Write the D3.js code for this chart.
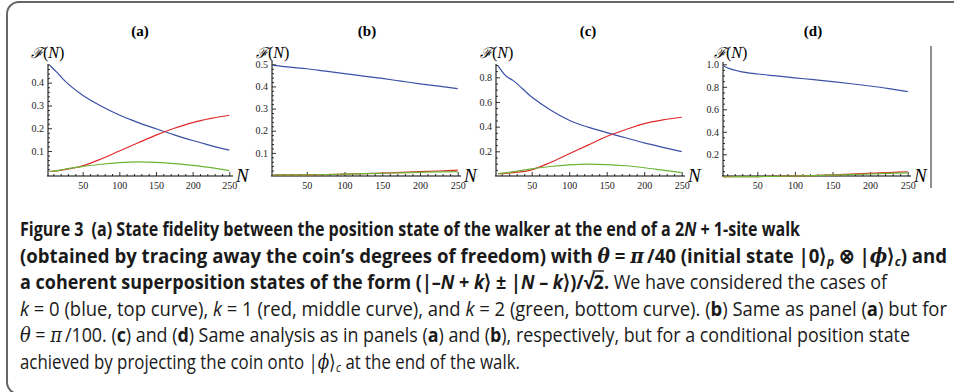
<!DOCTYPE html>
<html>
<head>
<meta charset='utf-8'>
<title>Figure 3</title>
<script src='https://cdn.jsdelivr.net/npm/d3@7/dist/d3.min.js'></script>
<style>
  body { margin: 0; background: #fff; }
  svg { display: block; }
</style>
</head>
<body>
<svg width='954' height='392'></svg>
<script>
const nValues = [5, 15, 25, 50, 75, 100, 125, 150, 175, 200, 225, 250]

// panel (a)
const aBlue = [0.477, 0.445, 0.41, 0.345, 0.298, 0.258, 0.226, 0.198, 0.171, 0.146, 0.124, 0.104]
const aRed = [0.01, 0.013, 0.018, 0.035, 0.065, 0.1, 0.135, 0.17, 0.2, 0.225, 0.243, 0.257]
const aGreen = [0.01, 0.014, 0.02, 0.032, 0.042, 0.049, 0.052, 0.05, 0.045, 0.037, 0.027, 0.014]
// panel (b)
const bBlue = [0.495, 0.492, 0.488, 0.48, 0.469, 0.458, 0.447, 0.436, 0.424, 0.412, 0.401, 0.39]
const bRed = [0, 0.0002, 0.0005, 0.001, 0.002, 0.004, 0.006, 0.009, 0.012, 0.015, 0.018, 0.022]
const bGreen = [0, 0.0002, 0.0004, 0.001, 0.002, 0.004, 0.006, 0.008, 0.01, 0.012, 0.014, 0.015]
// panel (c)
const cBlue = [0.895, 0.815, 0.775, 0.64, 0.535, 0.452, 0.396, 0.352, 0.31, 0.268, 0.232, 0.198]
const cRed = [0.02, 0.022, 0.027, 0.05, 0.11, 0.18, 0.25, 0.32, 0.375, 0.425, 0.455, 0.476]
const cGreen = [0.02, 0.026, 0.035, 0.058, 0.077, 0.09, 0.096, 0.093, 0.083, 0.067, 0.047, 0.027]
// panel (d)
const dBlue = [0.985, 0.957, 0.94, 0.914, 0.897, 0.88, 0.863, 0.846, 0.827, 0.807, 0.783, 0.757]
const dRed = [0, 0.0005, 0.001, 0.002, 0.004, 0.007, 0.011, 0.017, 0.024, 0.031, 0.038, 0.045]
const dGreen = [0, 0.0005, 0.001, 0.002, 0.004, 0.007, 0.01, 0.015, 0.02, 0.025, 0.03, 0.035]

const panelTitles = ['(a)', '(b)', '(c)', '(d)']
const xMajorTicks = [50, 100, 150, 200, 250]
const yMajorA = [0.1, 0.2, 0.3, 0.4]
const yMajorB = [0.1, 0.2, 0.3, 0.4, 0.5]
const yMajorC = [0.2, 0.4, 0.6, 0.8]
const yMajorD = [0.2, 0.4, 0.6, 0.8, 1.0]

const seriesColors = ['#3b50a6', '#e02a2c', '#6cb534']

const svg = d3.select('svg')

// layout of each panel (pixels)
const panels = [
  { title: panelTitles[0], blue: aBlue, red: aRed, green: aGreen, yMajor: yMajorA, yMinorStep: 0.02, yMax: 0.4,
    xr: [46, 229.3], yr: [173.8, 82.7], axisX: 48, top: 64, right: 233, titleX: 140, fx: 31 },
  { title: panelTitles[1], blue: bBlue, red: bRed, green: bGreen, yMajor: yMajorB, yMinorStep: 0.02, yMax: 0.5,
    xr: [269, 457.7], yr: [175, 64.3], axisX: 272, top: 61, right: 461, titleX: 367, fx: 256 },
  { title: panelTitles[2], blue: cBlue, red: cRed, green: cGreen, yMajor: yMajorC, yMinorStep: 0.05, yMax: 0.8,
    xr: [494.2, 681.7], yr: [176, 77.3], axisX: 496, top: 64, right: 685, titleX: 588, fx: 480 },
  { title: panelTitles[3], blue: dBlue, red: dRed, green: dGreen, yMajor: yMajorD, yMinorStep: 0.05, yMax: 1.0,
    xr: [719.7, 907.7], yr: [176.8, 64.3], axisX: 723, top: 62, right: 911, titleX: 813, fx: 714 }
]
const axisY = 176

panels.forEach(p => drawPanel(p))

function drawPanel(p) {
  const x = d3.scaleLinear().domain([0, 250]).range(p.xr)
  const y = d3.scaleLinear().domain([0, p.yMax]).range(p.yr)
  const g = svg.append('g')

  // minor ticks
  const xMinor = d3.range(10, 251, 10).filter(v => v % 50 !== 0)
  const yMinor = d3.range(p.yMinorStep, y.invert(p.top) + 1e-9, p.yMinorStep)
    .filter(v => !p.yMajor.some(m => Math.abs(m - v) < 1e-6))

  g.append('g')
    .attr('transform', `translate(0,${axisY})`)
    .call(d3.axisBottom(x).tickValues(xMinor).tickSize(-2).tickFormat(''))
    .call(s => s.select('.domain').remove())
  g.append('g')
    .attr('transform', `translate(0,${axisY})`)
    .call(d3.axisBottom(x).tickValues(xMajorTicks).tickSize(-4).tickPadding(6))
    .call(s => s.select('.domain').remove())

  g.append('g')
    .attr('transform', `translate(${p.axisX},0)`)
    .call(d3.axisLeft(y).tickValues(yMinor).tickSize(-2).tickFormat(''))
    .call(s => s.select('.domain').remove())
  g.append('g')
    .attr('transform', `translate(${p.axisX},0)`)
    .call(d3.axisLeft(y).tickValues(p.yMajor).tickSize(-4).tickPadding(4).tickFormat(d3.format('.1f')))
    .call(s => s.select('.domain').remove())

  g.selectAll('.tick line').attr('stroke', '#000').attr('stroke-width', 0.8)
  g.selectAll('.tick text').attr('font-family', "'Liberation Serif', serif").attr('font-size', 10).attr('fill', '#222')

  // axis lines
  g.append('line').attr('x1', p.axisX).attr('x2', p.axisX).attr('y1', p.top).attr('y2', axisY)
    .attr('stroke', '#000').attr('stroke-width', 1)
  g.append('line').attr('x1', p.axisX - 1).attr('x2', p.right).attr('y1', axisY).attr('y2', axisY)
    .attr('stroke', '#000').attr('stroke-width', 1)

  // curves
  const line = d3.line().x((d, i) => x(nValues[i])).y(d => y(d)).curve(d3.curveMonotoneX)
  ;[p.blue, p.red, p.green].forEach((s, i) => {
    g.append('path').datum(s).attr('d', line)
      .attr('fill', 'none').attr('stroke', seriesColors[i]).attr('stroke-width', 1.2)
  })

  // labels
  g.append('text').attr('x', p.titleX).attr('y', 36).attr('text-anchor', 'middle')
    .attr('font-family', "'Liberation Serif', serif").attr('font-weight', 'bold').attr('font-size', 15)
    .text(p.title)
  const fl = g.append('text').attr('x', p.fx).attr('y', 58)
    .attr('font-family', "'DejaVu Serif', serif").attr('font-size', 15)
  fl.append('tspan').attr('font-style', 'italic').text('\u2131')
  fl.append('tspan').attr('font-family', "'Liberation Serif', serif").attr('font-size', 16).text('(')
  fl.append('tspan').attr('font-family', "'Liberation Serif', serif").attr('font-size', 16).attr('font-style', 'italic').text('N')
  fl.append('tspan').attr('font-family', "'Liberation Serif', serif").attr('font-size', 16).text(')')
  g.append('text').attr('x', p.right + 3).attr('y', 182)
    .attr('font-family', "'Liberation Serif', serif").attr('font-style', 'italic').attr('font-size', 19)
    .text('N')
}

// cut edge line at the right of panel (d)
svg.append('line').attr('x1', 931).attr('x2', 931).attr('y1', 46).attr('y2', 188)
  .attr('stroke', '#444').attr('stroke-width', 1.2)

// rounded frame
svg.append('path')
  .attr('d', 'M 960 2 H 19 A 12 12 0 0 0 7 14 V 382 A 12 12 0 0 0 19 394')
  .attr('fill', 'none').attr('stroke', '#666').attr('stroke-width', 2)

// caption
const B = { b: 1 }, R = {}
const captionLines = [
  { w: 780, parts: [['Figure 3', B], ['\u2002(a) State fidelity between the position state of the walker at the end of a 2', B], ['N', { b: 1, i: 1 }], [' + 1-site walk', B]] },
  { w: 927, parts: [['(obtained by tracing away the coin\u2019s degrees of freedom) with ', B], ['\u03b8', { b: 1, i: 1, m: 1 }], [' = ', B], ['\u03c0', { b: 1, i: 1, m: 1 }],
      ['\u2009/40 (initial state |0\u27e9', B], ['p', { b: 1, i: 1, sub: 1 }], [' \u2297 |', B], ['\u03d5', { b: 1, i: 1, m: 1 }], ['\u27e9', B], ['c', { b: 1, i: 1, sub: 1 }], [') and', B]] },
  { w: 867, parts: [['a coherent superposition states of the form (|\u2013', B], ['N', { b: 1, i: 1 }], [' + ', B], ['k', { b: 1, i: 1 }], ['\u27e9 \u00b1 |', B], ['N', { b: 1, i: 1 }],
      [' \u2013 ', B], ['k', { b: 1, i: 1 }], ['\u27e9)/\u221a', B], ['2', { b: 1, o: 1 }], ['.', B], [' We have considered the cases of', R]] },
  { w: 927, parts: [['k', { i: 1 }], [' = 0 (blue, top curve), ', R], ['k', { i: 1 }], [' = 1 (red, middle curve), and ', R], ['k', { i: 1 }], [' = 2 (green, bottom curve). (', R],
      ['b', B], [') Same as panel (', R], ['a', B], [') but for', R]] },
  { w: 890, parts: [['\u03b8', { i: 1, m: 1 }], [' = ', R], ['\u03c0', { i: 1, m: 1 }], ['\u2009/100. (', R], ['c', B], [') and (', R], ['d', B], [') Same analysis as in panels (', R], ['a', B], [') and (', R],
      ['b', B], ['), respectively, but for a conditional position state', R]] },
  { w: 500, parts: [['achieved by projecting the coin onto |', R], ['\u03d5', { i: 1, m: 1 }], ['\u27e9', R], ['c', { i: 1, sub: 1 }], [' at the end of the walk.', R]] }
]
const captionTop = 236
const captionStep = 26.5

captionLines.forEach((ln, li) => {
  const t = svg.append('text')
    .attr('x', 20).attr('y', captionTop + li * captionStep)
    .attr('font-family', "'Open Sans', 'Noto Sans', sans-serif").attr('font-size', 20).attr('fill', '#1a1a1a')
    .attr('textLength', ln.w).attr('lengthAdjust', 'spacingAndGlyphs')
  let idx = 0
  const bars = []
  ln.parts.forEach(([txt, st]) => {
    const s = t.append('tspan').text(txt)
    if (st.b) s.attr('font-weight', 'bold')
    if (st.i) s.attr('font-style', 'italic')
    if (st.m) s.attr('font-family', "'DejaVu Serif', serif")
    if (st.o) bars.push(idx)
    if (st.sub) s.attr('baseline-shift', '-25%').attr('font-size', 13)
    idx += txt.length
  })
  // vinculum over the radicand of the square root
  bars.forEach(i => {
    const node = t.node()
    const root = node.getExtentOfChar(i - 1)
    const digit = node.getExtentOfChar(i)
    svg.append('line')
      .attr('x1', root.x + root.width - 1).attr('x2', digit.x + digit.width)
      .attr('y1', root.y + 3).attr('y2', root.y + 3)
      .attr('stroke', '#1a1a1a').attr('stroke-width', 1.4)
  })
})
</script>
</body>
</html>
